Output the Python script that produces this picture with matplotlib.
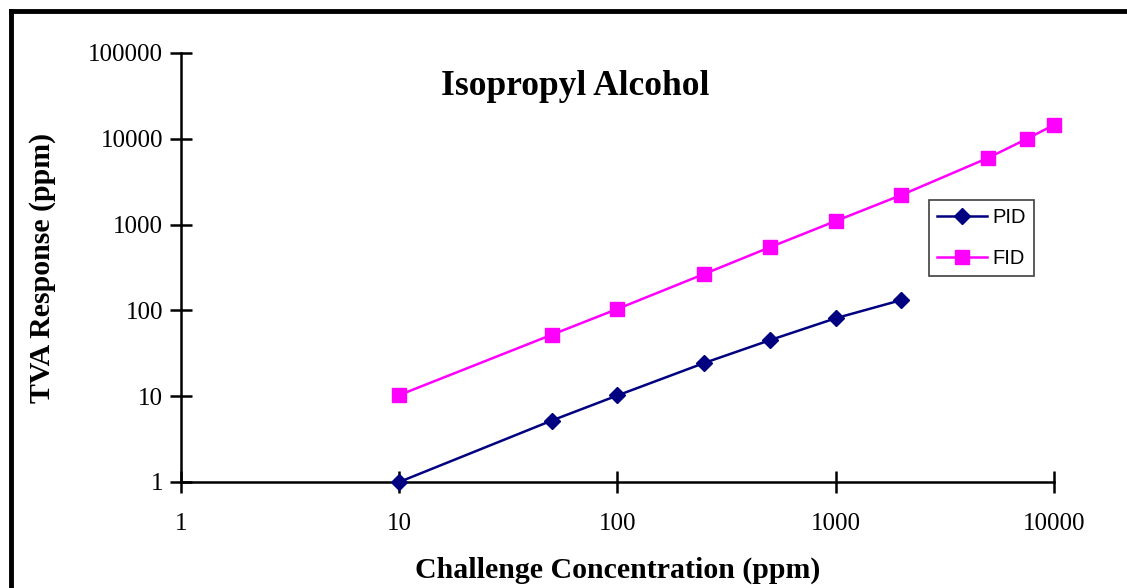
import matplotlib.pyplot as plt
from matplotlib.lines import Line2D
from matplotlib.ticker import FixedLocator, NullLocator, FixedFormatter

# challenge concentrations (ppm)
pid_conc = [10, 50, 100, 250, 500, 1000, 2000]
pid_resp = [1.0, 5.2, 10.2, 24.4, 45, 81, 132]

fid_conc = [10, 50, 100, 250, 500, 1000, 2000, 5000, 7500, 10000]
fid_resp = [10.3, 52, 104, 266, 545, 1100, 2210, 6000, 9950, 14500]

x_ticks = [1, 10, 100, 1000, 10000]
y_ticks = [1, 10, 100, 1000, 10000, 100000]

serif = 'Liberation Serif'

fig = plt.figure(figsize=(11.27, 5.88), dpi=100)
ax = fig.add_axes([0.1606, 0.1803, 0.7746, 0.7296])

ax.plot(pid_conc, pid_resp, color='#000080', marker='D', markersize=8,
        linewidth=1.8, label='PID', clip_on=False, zorder=3)
ax.plot(fid_conc, fid_resp, color='#FF00FF', marker='s', markersize=10,
        linewidth=1.8, label='FID', clip_on=False, zorder=3)

ax.set_xscale('log')
ax.set_yscale('log')
ax.set_xlim(1, 10000)
ax.set_ylim(1, 100000)

ax.xaxis.set_major_locator(FixedLocator(x_ticks))
ax.xaxis.set_major_formatter(FixedFormatter([str(v) for v in x_ticks]))
ax.yaxis.set_major_locator(FixedLocator(y_ticks))
ax.yaxis.set_major_formatter(FixedFormatter([str(v) for v in y_ticks]))
ax.xaxis.set_minor_locator(NullLocator())
ax.yaxis.set_minor_locator(NullLocator())

for side in ['top', 'right']:
    ax.spines[side].set_visible(False)
for side in ['left', 'bottom']:
    ax.spines[side].set_linewidth(1.8)
ax.tick_params(which='major', direction='inout', length=16, width=1.8,
               labelsize=18)
ax.tick_params(axis='y', pad=5)
ax.tick_params(axis='x', pad=14)
for lbl in ax.get_xticklabels() + ax.get_yticklabels():
    lbl.set_fontfamily(serif)

ax.set_xlabel('Challenge Concentration (ppm)', fontsize=21.5, fontweight='bold',
              fontfamily=serif, labelpad=16)
ax.set_ylabel('TVA Response (ppm)', fontsize=21.5, fontweight='bold',
              fontfamily=serif, labelpad=23)
ax.text(0.452, 0.921, 'Isopropyl Alcohol', transform=ax.transAxes,
        ha='center', va='center', fontsize=25.5, fontweight='bold',
        fontfamily=serif)

leg = ax.legend(loc='upper left', bbox_to_anchor=(0.824, 0.660),
                bbox_transform=fig.transFigure,
                prop={'family': 'Liberation Sans', 'size': 14.5},
                frameon=True, fancybox=False, edgecolor='#404040',
                framealpha=1, handlelength=2.5, borderpad=0.4,
                labelspacing=1.1, handletextpad=0.25, borderaxespad=0)
leg.get_frame().set_linewidth(1.2)

# heavy frame lines along the top and left edges
fig.add_artist(Line2D([0.0097, 1.0], [0.9813, 0.9813], color='black',
                      linewidth=3.5, transform=fig.transFigure))
fig.add_artist(Line2D([0.0097, 0.0097], [0.0, 0.9813], color='black',
                      linewidth=3.5, transform=fig.transFigure))

fig.savefig('out.png', dpi=100)
